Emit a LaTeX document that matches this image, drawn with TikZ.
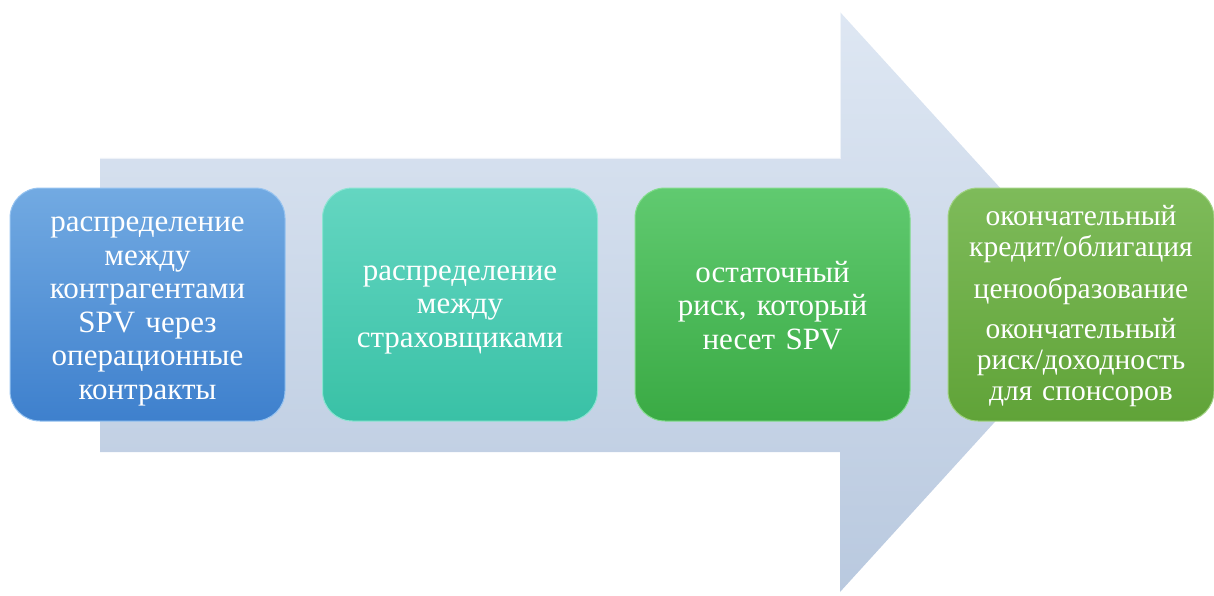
\documentclass[tikz,border=0pt]{standalone}
\usepackage{fontspec}
\setmainfont{Liberation Serif}
\definecolor{arrowtop}{HTML}{DEE7F3}
\definecolor{arrowbot}{HTML}{B9C9DF}
\tikzset{
  stage/.style={rounded corners=30pt, minimum width=275pt, minimum height=233pt,
    inner sep=0pt, line width=1pt},
  stagetext/.style={text=white, align=center, text width=270pt, inner sep=0pt,
    font=\fontsize{31}{33.5}\selectfont},
}
\begin{document}
\begin{tikzpicture}[x=1pt,y=-1pt]
\useasboundingbox (0,0) rectangle (1214,596);
% big arrow
\shade[top color=arrowtop, bottom color=arrowbot]
  (100,158) -- (840,158) -- (840,12) -- (1104,302) -- (840,592) -- (840,452) -- (100,452) -- cycle;
\draw[white, opacity=0.6, line width=1.5pt]
  (100,158) -- (840,158) -- (840,12);
% stages
\node[stage, top color={rgb,255:red,114;green,170;blue,226}, bottom color={rgb,255:red,62;green,128;blue,205}, draw={rgb,255:red,150;green,195;blue,240}]
  (s1) at (147.5,304.5) {};
\node[stagetext] (t1) at ([yshift=-7pt]s1.center) {распределение\\между\\контрагентами\\SPV через\\операционные\\контракты};
\node[stage, top color={rgb,255:red,100;green,214;blue,193}, bottom color={rgb,255:red,57;green,193;blue,166}, draw={rgb,255:red,140;green,228;blue,210}]
  (s2) at (460,304.5) {};
\node[stagetext] (t2) at ([yshift=-5pt]s2.center) {распределение\\между\\страховщиками};
\node[stage, top color={rgb,255:red,96;green,202;blue,112}, bottom color={rgb,255:red,58;green,170;blue,68}, draw={rgb,255:red,130;green,220;blue,140}]
  (s3) at (772.5,304.5) {};
\node[stagetext] (t3) at ([yshift=-1pt]s3.center) {остаточный\\риск, который\\несет SPV};
\node[stage, minimum width=266pt, top color={rgb,255:red,126;green,187;blue,90}, bottom color={rgb,255:red,96;green,163;blue,56}, draw={rgb,255:red,160;green,210;blue,130}]
  (s4) at (1081,304.5) {};
\node[stagetext, text width=262pt, font=\fontsize{29.5}{31}\selectfont] (t4) at ([yshift=-2pt]s4.center)
  {окончательный\\кредит/облигация\\[11pt]ценообразование\\[9pt]окончательный\\риск/доходность\\для спонсоров};
\end{tikzpicture}
\end{document}
